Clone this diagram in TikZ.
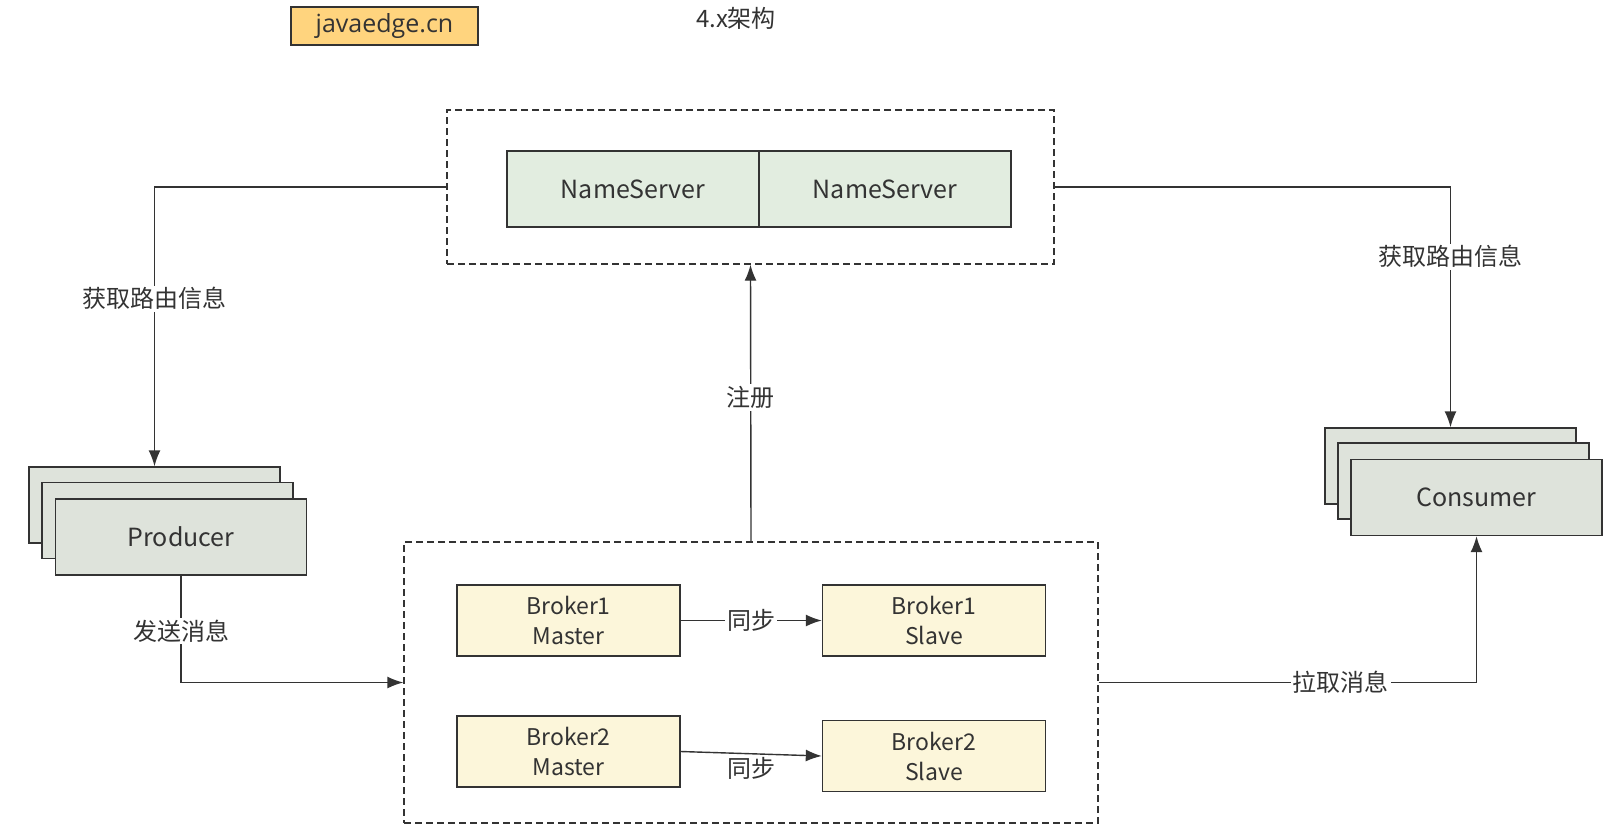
\documentclass[tikz,border=0pt]{standalone}
\usepackage{fontspec}
\setmainfont{Noto Sans CJK SC}
\newfontfamily\tagfont{Open Sans}
\usetikzlibrary{arrows.meta}

\definecolor{ink}{HTML}{333333}
\definecolor{nsfill}{HTML}{E2EDE0}
\definecolor{pcfill}{HTML}{DEE3DB}
\definecolor{brkfill}{HTML}{FCF6DA}
\definecolor{tagfill}{HTML}{FFD47E}

\tikzset{
  box/.style={draw=ink, line width=1.4pt, text=ink, align=center, inner sep=0pt,
    font=\fontsize{25}{30}\selectfont},
  brk/.style={box, fill=brkfill, minimum width=223pt, minimum height=71pt,
    font=\fontsize{23}{30}\selectfont},
  group/.style={draw=ink, dashed, line width=1.4pt, dash pattern=on 7pt off 4pt,
    inner sep=0pt},
  link/.style={draw=ink, line width=1.4pt},
  arr/.style={link, -{Latex[length=16pt,width=12pt]}},
  lbl/.style={fill=white, text=ink, inner sep=2pt, font=\fontsize{24}{28}\selectfont},
}

\begin{document}
\begin{tikzpicture}[x=1pt,y=-1pt]
\useasboundingbox (0,0) rectangle (1624,839);

% tag and title
\node[box, fill=tagfill, minimum width=187pt, minimum height=38pt,
  font=\tagfont\fontsize{25}{28}\selectfont, line width=2pt] (tag) at (384.5,26) {javaedge.cn};
\node[text=ink, font=\fontsize{24}{28}\selectfont] (title) at (736,18) {4.x架构};

% NameServer group
\node[group, minimum width=607pt, minimum height=154pt] (nsgroup) at (750.5,187) {};
\node[box, fill=nsfill, minimum width=252pt, minimum height=76pt] (ns1) at (633,189) {NameServer};
\node[box, fill=nsfill, minimum width=252pt, minimum height=76pt] (ns2) at (885,189) {NameServer};

% Producer stack
\node[box, fill=pcfill, minimum width=251pt, minimum height=76pt] (prod3) at (154.5,505) {};
\node[box, fill=pcfill, minimum width=251pt, minimum height=76pt] (prod2) at (167.5,520.5) {};
\node[box, fill=pcfill, minimum width=251pt, minimum height=76pt] (prod) at (181,537) {Producer};

% Consumer stack
\node[box, fill=pcfill, minimum width=251pt, minimum height=76pt] (cons3) at (1450.5,466) {};
\node[box, fill=pcfill, minimum width=251pt, minimum height=76pt] (cons2) at (1463.5,481) {};
\node[box, fill=pcfill, minimum width=251pt, minimum height=76pt] (cons) at (1476.5,497.5) {Consumer};

% Broker group
\node[group, minimum width=694pt, minimum height=281pt] (bgroup) at (751,682.5) {};
\node[brk] (b1m) at (568.5,620.5) {Broker1\\Master};
\node[brk] (b1s) at (934,620.5) {Broker1\\Slave};
\node[brk] (b2m) at (568.5,751.5) {Broker2\\Master};
\node[brk] (b2s) at (934,756) {Broker2\\Slave};

% connectors
\draw[arr] (nsgroup.west) -| (prod3.north) node[lbl, pos=0.70] {获取路由信息};
\draw[arr] (nsgroup.east) -| (cons3.north) node[lbl, pos=0.645] {获取路由信息};
\draw[arr] (bgroup.north) -- (nsgroup.south) node[lbl, pos=0.52] {注册};
\draw[arr] (prod.south) |- (bgroup.west) node[lbl, pos=0.26] {发送消息};
\draw[arr] (bgroup.east) -| (cons.south) node[lbl, pos=0.32] {拉取消息};
\draw[arr] (b1m.east) -- (b1s.west) node[lbl, midway] {同步};
\draw[arr] (b2m.east) -- (b2s.west) node[lbl, midway, below=1pt, fill=none] {同步};

\end{tikzpicture}
\end{document}
